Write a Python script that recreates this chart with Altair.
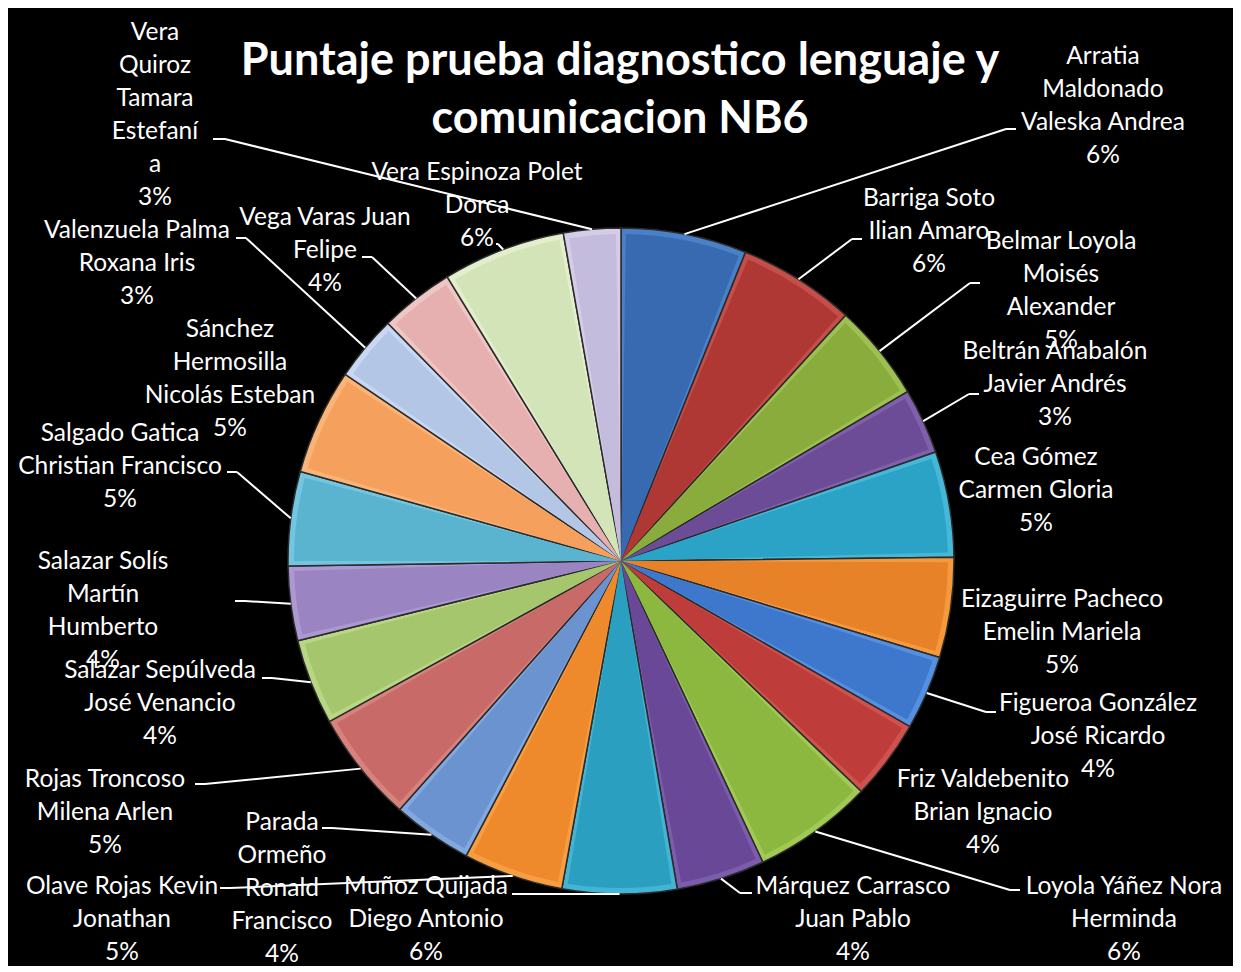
import altair as alt
import pandas as pd

# ---------------- data ----------------
NAMES = [
    "Arratia Maldonado Valeska Andrea", "Barriga Soto Ilian Amaro", "Belmar Loyola Moisés Alexander",
    "Beltrán Anabalón Javier Andrés", "Cea Gómez Carmen Gloria", "Eizaguirre Pacheco Emelin Mariela",
    "Figueroa González José Ricardo", "Friz Valdebenito Brian Ignacio", "Loyola Yáñez Nora Herminda",
    "Márquez Carrasco Juan Pablo", "Muñoz Quijada Diego Antonio", "Olave Rojas Kevin Jonathan",
    "Parada Ormeño Ronald Francisco", "Rojas Troncoso Milena Arlen", "Salazar Sepúlveda José Venancio",
    "Salazar Solís Martín Humberto", "Salgado Gatica Christian Francisco", "Sánchez Hermosilla Nicolás Esteban",
    "Valenzuela Palma Roxana Iris", "Vega Varas Juan Felipe", "Vera Espinoza Polet Dorca",
    "Vera Quiroz Tamara Estefanía",
]
LABEL_LINES = [
    "Arratia\nMaldonado\nValeska Andrea", "Barriga Soto\nIlian Amaro", "Belmar Loyola\nMoisés\nAlexander",
    "Beltrán Anabalón\nJavier Andrés", "Cea Gómez\nCarmen Gloria", "Eizaguirre Pacheco\nEmelin Mariela",
    "Figueroa González\nJosé Ricardo", "Friz Valdebenito\nBrian Ignacio", "Loyola Yáñez Nora\nHerminda",
    "Márquez Carrasco\nJuan Pablo", "Muñoz Quijada\nDiego Antonio", "Olave Rojas Kevin\nJonathan",
    "Parada\nOrmeño\nRonald\nFrancisco", "Rojas Troncoso\nMilena Arlen", "Salazar Sepúlveda\nJosé Venancio",
    "Salazar Solís\nMartín\nHumberto", "Salgado Gatica\nChristian Francisco", "Sánchez\nHermosilla\nNicolás Esteban",
    "Valenzuela Palma\nRoxana Iris", "Vega Varas Juan\nFelipe", "Vera Espinoza Polet\nDorca",
    "Vera\nQuiroz\nTamara\nEstefaní\na",
]
SCORES = [44, 41, 34, 23, 37, 35, 26, 28, 42, 31, 40, 35, 28, 39, 30, 26, 33, 37, 23, 26, 43, 20]
TITLE_LINES = ["Puntaje prueba diagnostico lenguaje y", "comunicacion NB6"]

# ---------------- styles ----------------
COLORS = [
    "#376AB1", "#B03834", "#8AAC3C", "#6C4C96", "#2BA3C6", "#E88228",
    "#3E78CC", "#BE3C3A", "#8DB83F", "#6A4898", "#2B9FC0", "#EE8A2C",
    "#6A93D0", "#C86B68", "#A6C66E", "#9A84C2", "#5AB4D0", "#F6A05E",
    "#B3C6E6", "#E6B0B0", "#D3E4B8", "#C4BCDC",
]
RIM_COLORS = [
    "#4A80C8", "#C44E4A", "#9DC050", "#7F60AA", "#45B8D8", "#F5993E",
    "#5590E0", "#D0524E", "#A0CA55", "#7C5CAC", "#44B4D4", "#F89E42",
    "#82A8E0", "#D8827E", "#B8D684", "#AC98D2", "#74C6E0", "#FAB478",
    "#C8D8F2", "#F0C6C4", "#E2EECC", "#D4CCE8",
]

# ---------------- layout (page pixels) ----------------
M = 8
W, H = 1225, 958
CX, CY, R = 621 - M, 561 - M, 333
BEVEL = 6

# x = centre of text block, y = centre of its first line
LABEL_X = [1103, 929, 1061, 1055, 1036, 1062, 1098, 983, 1124, 853, 426, 122,
           282, 105, 160, 103, 120, 230, 137, 325, 477, 155]
LABEL_Y = [57, 199, 242, 352, 458, 600, 704, 780, 887, 887, 887, 887,
           823, 780, 671, 562, 434, 330, 231, 218, 173, 33]
STUB_X = [1016, 862, 980, 979, None, None, 996, None, 1020, 752, 512, 220,
          322, 195, 262, 235, 227, None, 236, 362, 496, 213]
ELBOW_X = [1006, 852, 970, 969, None, None, 986, None, 1010, 740, 522, 230,
           332, 205, 272, 245, 237, None, 246, 372, 498, 225]
ELBOW_Y = [129, 239, 283, 394, None, None, 712, None, 890, 893, 894, 888,
           828, 784, 678, 601, 472, None, 238, 257, 244, 139]


def sub(v):
    return None if v is None else v - M


df = pd.DataFrame({
    "idx": list(range(len(NAMES))),
    "name": NAMES,
    "lines": LABEL_LINES,
    "score": SCORES,
    "lx": [sub(v) for v in LABEL_X],
    "ly": [sub(v) for v in LABEL_Y],
    "sx": [sub(v) for v in STUB_X],
    "bx": [sub(v) for v in ELBOW_X],
    "by": [sub(v) for v in ELBOW_Y],
})
df["rim"] = df["name"] + " "

xs = alt.Scale(domain=[0, W], range=[0, W], nice=False, zero=False)
ys = alt.Scale(domain=[0, H], range=[0, H], nice=False, zero=False)

base = alt.Chart(df).transform_joinaggregate(
    total="sum(score)"
).transform_window(
    cum="sum(score)", sort=[alt.SortField("idx")], frame=[None, 0]
).transform_calculate(
    mid="(datum.cum - datum.score / 2) / datum.total * 2 * PI",
    ex=f"{CX} + {R} * sin(datum.mid)",
    ey=f"{CY} - {R} * cos(datum.mid)",
    label="datum.lines + '\\n' + format(datum.score / datum.total, '.0%')",
)

rim = alt.Chart(df).mark_arc(
    outerRadius=R, stroke="#2b2b2b", strokeWidth=1.5
).encode(
    theta=alt.Theta("score:Q", stack=True),
    order=alt.Order("idx:Q"),
    color=alt.Color("rim:N", scale=alt.Scale(domain=[n + " " for n in NAMES], range=RIM_COLORS), legend=None),
    x=alt.value(CX),
    y=alt.value(CY),
)

arc = alt.Chart(df).mark_arc(
    outerRadius=R - BEVEL, padAngle=0.03
).encode(
    theta=alt.Theta("score:Q", stack=True),
    order=alt.Order("idx:Q"),
    color=alt.Color("name:N", scale=alt.Scale(domain=NAMES, range=COLORS), legend=None),
    x=alt.value(CX),
    y=alt.value(CY),
)

diag = base.transform_filter("isValid(datum.bx)").mark_rule(
    color="white", strokeWidth=2
).encode(
    x=alt.X("bx:Q", scale=xs, axis=None),
    y=alt.Y("by:Q", scale=ys, axis=None),
    x2="ex:Q",
    y2="ey:Q",
)

stub = base.transform_filter("isValid(datum.bx)").mark_rule(
    color="white", strokeWidth=2
).encode(
    x=alt.X("sx:Q", scale=xs, axis=None),
    x2="bx:Q",
    y=alt.Y("by:Q", scale=ys, axis=None),
)

labels = base.mark_text(
    font="Lato", fontSize=24.5, color="white", lineBreak="\n", lineHeight=33,
    align="center", baseline="middle",
).encode(
    x=alt.X("lx:Q", scale=xs, axis=None),
    y=alt.Y("ly:Q", scale=ys, axis=None),
    text="label:N",
)

title = alt.Chart(pd.DataFrame({"t": ["\n".join(TITLE_LINES)]})).mark_text(
    font="Lato", fontWeight="bold", fontSize=45, color="white", lineBreak="\n",
    lineHeight=58, align="center", baseline="middle",
).encode(
    text="t:N",
    x=alt.value(620 - M),
    y=alt.value(61 - M),
)

chart = alt.layer(rim, arc, diag, stub, labels, title).resolve_scale(
    color="independent"
).properties(
    width=W, height=H, padding=0, autosize="none", background="black"
).configure_view(stroke=None)

chart.save("out.html", embed_options={"renderer": "svg", "actions": False})
